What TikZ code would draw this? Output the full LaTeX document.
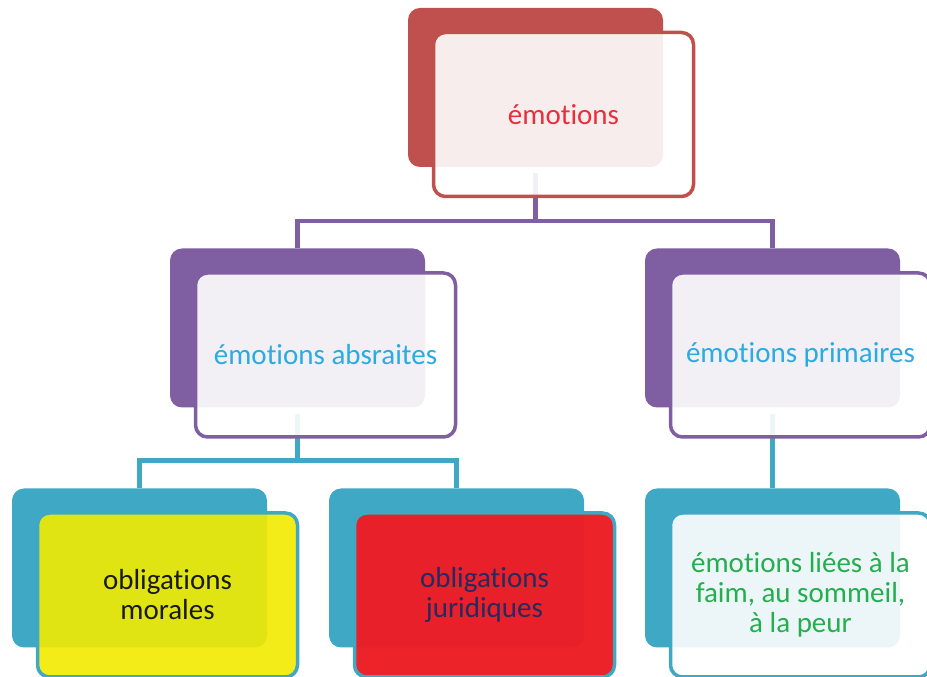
\documentclass[tikz,border=0pt]{standalone}
\usepackage{fontspec}
\setmainfont[RawFeature={-liga;-clig;-dlig;-calt}]{Carlito}
\usetikzlibrary{positioning}
\definecolor{redcol}{HTML}{C0504D}
\definecolor{purplecol}{HTML}{7F5FA1}
\definecolor{bluecol}{HTML}{3FA9C5}
\definecolor{yellowcol}{HTML}{F2EB00}
\definecolor{brightred}{HTML}{ED1C24}
\definecolor{redtext}{HTML}{EA2F3C}
\definecolor{bluetext}{HTML}{2AABE2}
\definecolor{greentext}{HTML}{25AE4E}
\definecolor{navytext}{HTML}{262A5E}
\definecolor{darktext}{HTML}{1A1A1A}

\begin{document}
\begin{tikzpicture}[
			x=1pt, y=1pt,
			node distance=240pt,
			on grid,
			back/.style={
				fill=#1,
				draw=none,
				rounded corners=12pt,
				minimum width=255pt,
				minimum height=159pt
			},
			front/.style={
				draw=#1,
				line width=3.5pt,
				fill=white,
				fill opacity=0.9,
				text opacity=1,
				rounded corners=12pt,
				minimum width=260pt,
				minimum height=164pt,
				align=center,
				font=\fontsize{29}{30}\selectfont
			},
			link/.style={
				draw=#1,
				line width=4.5pt
			}
			]
			\path[fill=white] (0,0) rectangle (927,677);
			\useasboundingbox (0,0) rectangle (927,677);
			
			% Back boxes
			\node[back=redcol] (emoBack) at (535.5,589.5) {};
			\node[back=purplecol] (absBack) [below left=240.5pt and 238pt of emoBack] {};
			\node[back=purplecol] (primBack) [below right=240.5pt and 237pt of emoBack] {};
			\node[back=bluecol] (morBack) [below left=240pt and 158pt of absBack] {};
			\node[back=bluecol] (jurBack) [below right=240pt and 159pt of absBack] {};
			\node[back=bluecol] (faimBack) [below=of primBack] {};
			
			% Links
			\draw[link=purplecol] ([yshift=-6pt]emoBack.south) -- ++(0,-48) coordinate (split1)
			-| (absBack.north);
			\draw[link=purplecol] (split1) -| (primBack.north);
			\draw[link=bluecol] ([yshift=-6pt]absBack.south) -- ++(0,-47) coordinate (split2)
			-| (morBack.north);
			\draw[link=bluecol] (split2) -| (jurBack.north);
			\draw[link=bluecol] ([yshift=-6pt]primBack.south) -- (faimBack.north);
			
			% Front boxes
			\node[front=redcol, text=redtext] (emo) [below right=27pt and 28pt of emoBack] {émotions};
			\node[front=purplecol, text=bluetext] (abs) [below right=27pt and 28pt of absBack] {émotions absraites};
			\node[front=purplecol, text=bluetext] (prim) [below right=27pt and 28pt of primBack] {émotions primaires};
			\node[front=bluecol, fill=yellowcol, text=darktext] (mor) [below right=27pt and 28pt of morBack] {obligations\\morales};
			\node[front=bluecol, fill=brightred, fill opacity=0.97, text=navytext] (jur) [below right=27pt and 28pt of jurBack] {obligations\\juridiques};
			\node[front=bluecol, text=greentext] (faim) [below right=27pt and 28pt of faimBack] {émotions liées à la\\faim, au sommeil,\\à la peur};
		\end{tikzpicture}
\end{document}
